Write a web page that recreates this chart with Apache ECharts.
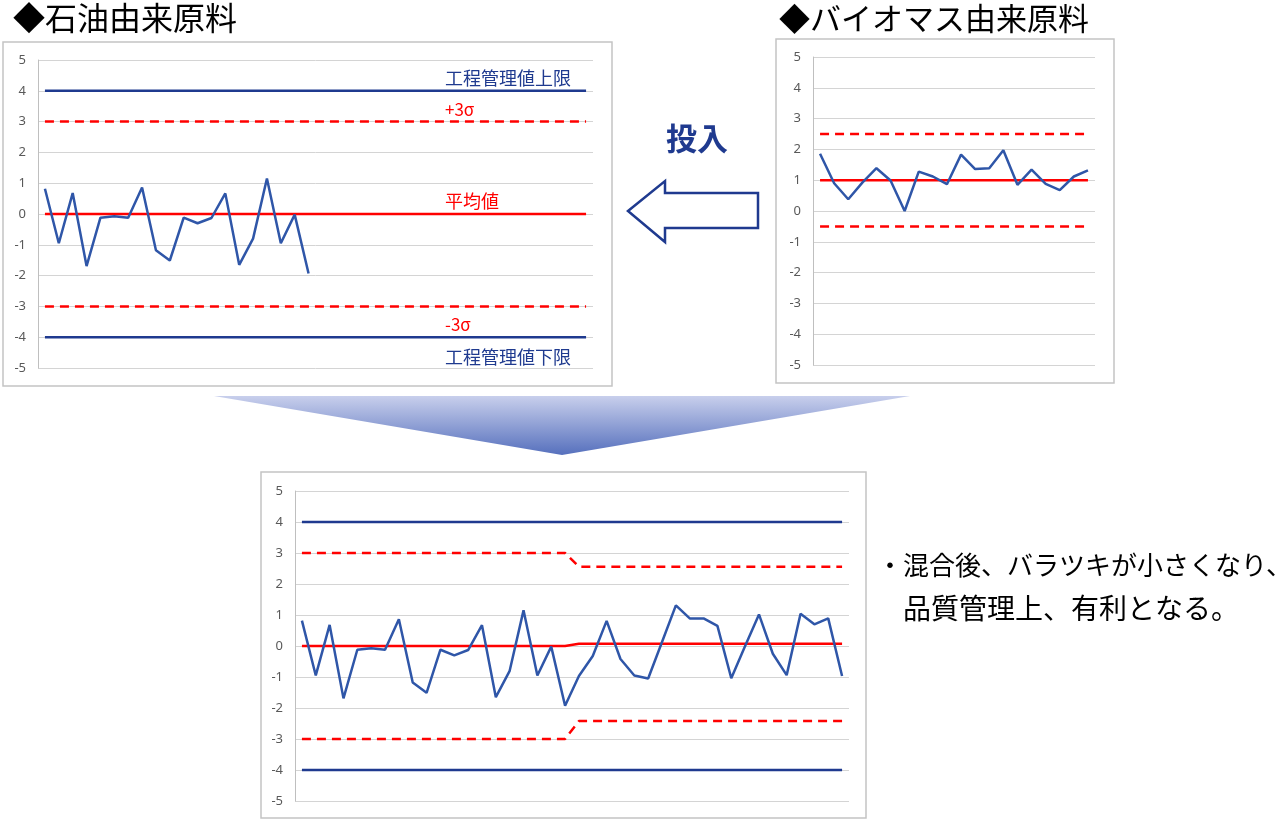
<!DOCTYPE html>
<html lang="ja">
<head>
<meta charset="utf-8">
<title>石油由来原料・バイオマス由来原料 管理図</title>
<script src="https://cdn.jsdelivr.net/npm/echarts@6/dist/echarts.min.js"></script>
<style>
  html, body { margin: 0; padding: 0; background: #fff; }
  #chart { width: 1284px; height: 822px; }
</style>
</head>
<body>
<div id="chart"></div>
<script>
  // 石油由来原料（20ロット）
  var PETRO = [0.82, -0.95, 0.68, -1.69, -0.12, -0.07, -0.12, 0.86, -1.18, -1.51,
               -0.12, -0.30, -0.13, 0.67, -1.65, -0.80, 1.15, -0.95, -0.02, -1.93];
  // バイオマス由来原料（20ロット）
  var BIOMASS = [1.86, 0.90, 0.38, 0.92, 1.39, 0.99, 0.00, 1.28, 1.12, 0.87,
                 1.83, 1.36, 1.39, 1.97, 0.85, 1.34, 0.88, 0.68, 1.12, 1.32];
  // 混合後（後半20ロット）
  var MIXED_TAIL = [-0.97, -0.32, 0.81, -0.42, -0.95, -1.05, 0.13, 1.31, 0.89, 0.89,
                    0.65, -1.04, 0.00, 1.02, -0.25, -0.94, 1.04, 0.70, 0.89, -0.97];
  var MIXED = PETRO.concat(MIXED_TAIL);

  // 管理値: [上限, 下限]
  var SPEC_LIMITS = [4, -4];
  // [+3σ, 平均値, -3σ]
  var PETRO_CTRL = [3, 0, -3];
  var BIO_CTRL = [2.5, 1, -0.5];
  // 混合後: [前半, 後半]
  var MIX_UCL = [3, 2.56];
  var MIX_MEAN = [0, 0.07];
  var MIX_LCL = [-3, -2.42];

  var Y_TICKS = [-5, -4, -3, -2, -1, 0, 1, 2, 3, 4, 5];
  var SLOTS_LONG = 40;
  var SLOTS_SHORT = 20;

  var NAVY = "#1f3a8f";
  var BLUE = "#2f56a8";
  var RED = "#ff0000";
  var JP = '"Noto Sans CJK JP", "Noto Sans", sans-serif';

  function cats(n) {
    var out = [];
    for (var i = 1; i <= n; i++) out.push(String(i));
    return out;
  }

  function xAxisFor(gridIndex, n) {
    return {
      type: "category", gridIndex: gridIndex, data: cats(n), boundaryGap: true,
      axisLine: { show: false }, axisTick: { show: false }, axisLabel: { show: false },
      splitLine: { show: false }
    };
  }

  function yAxisFor(gridIndex) {
    return {
      type: "value", gridIndex: gridIndex,
      min: Y_TICKS[0], max: Y_TICKS[Y_TICKS.length - 1], interval: 1,
      axisLine: { show: true, lineStyle: { color: "#bfbfbf", width: 1 } },
      axisTick: { show: false },
      axisLabel: { color: "#595959", fontSize: 13, margin: 12, fontFamily: "Noto Sans" },
      splitLine: { lineStyle: { color: "#d4d4d4", width: 1 } }
    };
  }

  function line(gridIndex, data, style, z) {
    return {
      type: "line", xAxisIndex: gridIndex, yAxisIndex: gridIndex,
      data: data, showSymbol: false, symbol: "none", silent: true,
      lineStyle: style, z: z || 2, animation: false
    };
  }

  function flat(last, v) { return [[0, v], [last, v]]; }
  function stepped(pair, last, half) {
    return [[0, pair[0]], [half - 1, pair[0]], [half, pair[1]], [last, pair[1]]];
  }

  var navyStyle = { color: NAVY, width: 2.5 };
  var meanStyle = { color: RED, width: 2.5 };
  var sigmaStyle = { color: RED, width: 2.5, type: [9, 6] };
  var dataStyle = { color: BLUE, width: 2.5 };

  var L = SLOTS_LONG - 1, S = SLOTS_SHORT - 1;

  var series = [
    // 石油由来原料
    line(0, flat(L, SPEC_LIMITS[0]), navyStyle),
    line(0, flat(L, SPEC_LIMITS[1]), navyStyle),
    line(0, flat(L, PETRO_CTRL[0]), sigmaStyle),
    line(0, flat(L, PETRO_CTRL[1]), meanStyle),
    line(0, flat(L, PETRO_CTRL[2]), sigmaStyle),
    line(0, PETRO, dataStyle, 3),
    // バイオマス由来原料
    line(1, flat(S, BIO_CTRL[0]), sigmaStyle),
    line(1, flat(S, BIO_CTRL[1]), meanStyle),
    line(1, flat(S, BIO_CTRL[2]), sigmaStyle),
    line(1, BIOMASS, dataStyle, 3),
    // 混合後
    line(2, flat(L, SPEC_LIMITS[0]), navyStyle),
    line(2, flat(L, SPEC_LIMITS[1]), navyStyle),
    line(2, stepped(MIX_UCL, L, PETRO.length), sigmaStyle),
    line(2, stepped(MIX_MEAN, L, PETRO.length), meanStyle),
    line(2, stepped(MIX_LCL, L, PETRO.length), sigmaStyle),
    line(2, MIXED, dataStyle, 3)
  ];

  function text(str, x, y, size, color, weight) {
    return {
      type: "text", x: x, y: y, silent: true, z: 10,
      style: {
        text: str, fill: color || "#000", fontSize: size, fontFamily: JP,
        fontWeight: weight || "normal", align: "left", verticalAlign: "middle"
      }
    };
  }

  function box(x1, y1, x2, y2) {
    return {
      type: "rect", silent: true, z: 0,
      shape: { x: x1, y: y1, width: x2 - x1, height: y2 - y1 },
      style: { fill: "transparent", stroke: "#c4c4c4", lineWidth: 1.5 }
    };
  }

  var graphics = [
    box(3, 42, 612, 386),
    box(776, 39, 1114, 383),
    box(261, 472, 866, 818),
    text("◆石油由来原料", 13, 18, 32),
    text("◆バイオマス由来原料", 779, 18, 31),
    text("工程管理値上限", 445, 78, 18, NAVY),
    text("+3σ", 445, 110, 17, RED),
    text("平均値", 445, 201, 18, RED),
    text("-3σ", 445, 325, 17, RED),
    text("工程管理値下限", 445, 357, 18, NAVY),
    text("投入", 666, 138, 31, NAVY, "bold"),
    {
      type: "polygon", silent: true, z: 5,
      shape: { points: [[628, 211], [665, 181], [665, 193], [758, 193], [758, 228], [665, 228], [665, 242]] },
      style: { fill: "#fff", stroke: NAVY, lineWidth: 2.5, lineJoin: "miter" }
    },
    {
      type: "polygon", silent: true, z: 5,
      shape: { points: [[214, 396], [910, 396], [562, 455]] },
      style: {
        fill: new echarts.graphic.LinearGradient(0, 0, 0, 1, [
          { offset: 0, color: "#c8cfec" },
          { offset: 1, color: "#5670bd" }
        ])
      }
    },
    text("・混合後、バラツキが小さくなり、", 877, 565, 26),
    text("品質管理上、有利となる。", 903, 608, 28)
  ];

  var chart = echarts.init(document.getElementById("chart"), null, { renderer: "canvas" });
  chart.setOption({
    backgroundColor: "#fff",
    animation: false,
    grid: [
      { left: 38, top: 60, width: 555, height: 308 },
      { left: 813, top: 57, width: 282, height: 308 },
      { left: 295, top: 491, width: 554, height: 310 }
    ],
    xAxis: [xAxisFor(0, SLOTS_LONG), xAxisFor(1, SLOTS_SHORT), xAxisFor(2, SLOTS_LONG)],
    yAxis: [yAxisFor(0), yAxisFor(1), yAxisFor(2)],
    series: series,
    graphic: graphics
  });
</script>
</body>
</html>
